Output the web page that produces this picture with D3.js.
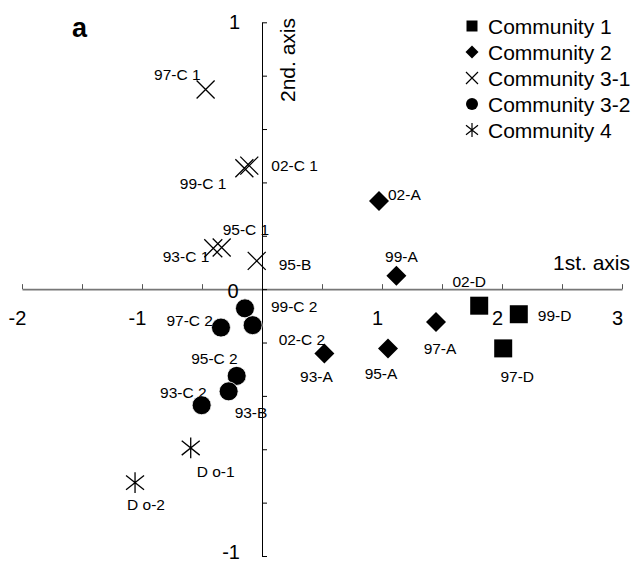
<!DOCTYPE html>
<html>
<head>
<meta charset="utf-8">
<script src="https://cdn.jsdelivr.net/npm/d3@7"></script>
<style>
  html, body { margin: 0; padding: 0; background: #fff; }
  svg { display: block; font-family: "Liberation Sans", Arial, Helvetica, sans-serif; }
</style>
</head>
<body>
<div id="chart"></div>
<script>
// ---------------- data ----------------
const xTickValues = [-2, -1.5, -1, -0.5, 0, 0.5, 1, 1.5, 2, 2.5, 3];
const xTickLabels = ["-2", "", "-1", "", "", "", "1", "", "2", "", "3"];
const yTickValues = [-1, -0.8, -0.6, -0.4, -0.2, 0, 0.2, 0.4, 0.6, 0.8, 1];
const yTickLabels = ["-1", "", "", "", "", "", "", "", "", "", "1"];
const originLabel = "0";

const legendLabels = ["Community 1", "Community 2", "Community 3-1", "Community 3-2", "Community 4"];

// Community 1 (squares)
const c1Labels = ["02-D", "99-D", "97-D"];
const c1X = [1.81, 2.14, 2.01];
const c1Y = [-0.062, -0.094, -0.222];

// Community 2 (diamonds)
const c2Labels = ["02-A", "99-A", "97-A", "95-A", "93-A"];
const c2X = [0.975, 1.12, 1.45, 1.05, 0.52];
const c2Y = [0.33, 0.05, -0.123, -0.222, -0.241];

// Community 3-1 (crosses)
const c31Labels = ["97-C 1", "99-C 1", "02-C 1", "93-C 1", "95-C 1", "95-B"];
const c31X = [-0.47, -0.147, -0.106, -0.406, -0.336, -0.044];
const c31Y = [0.748, 0.453, 0.463, 0.153, 0.156, 0.106];

// Community 3-2 (circles)
const c32Labels = ["99-C 2", "02-C 2", "97-C 2", "95-C 2", "93-B", "93-C 2"];
const c32X = [-0.142, -0.078, -0.342, -0.211, -0.278, -0.503];
const c32Y = [-0.072, -0.135, -0.144, -0.325, -0.383, -0.435];

// Community 4 (asterisks)
const c4Labels = ["D o-1", "D o-2"];
const c4X = [-0.594, -1.058];
const c4Y = [-0.595, -0.725];

// ---------------- layout / style ----------------
const W = 631, H = 564;
const labelOffsets = {
  "02-D": [-10, -24, "middle"], "99-D": [19, 1, "start"], "97-D": [14, 28, "middle"],
  "02-A": [9, -7, "start"], "99-A": [5, -19, "middle"], "97-A": [4, 27, "middle"],
  "95-A": [-7, 25, "middle"], "93-A": [-8, 23, "middle"],
  "97-C 1": [-5, -15, "end"], "99-C 1": [-18, 15, "end"], "02-C 1": [22, 0, "start"],
  "93-C 1": [-4, 8, "end"], "95-C 1": [1, -18, "start"], "95-B": [22, 4, "start"],
  "99-C 2": [26, -2, "start"], "02-C 2": [26, 14, "start"], "97-C 2": [-8, -7, "end"],
  "95-C 2": [1, -17, "end"], "93-B": [6, 21, "start"], "93-C 2": [5, -13, "end"],
  "D o-1": [6, 24, "start"], "D o-2": [-8, 22, "start"]
};

const symSquare = { draw(ctx, r) { ctx.rect(-r, -r, 2 * r, 2 * r); } };
const symDiamond = { draw(ctx, r) { ctx.moveTo(0, -r); ctx.lineTo(r, 0); ctx.lineTo(0, r); ctx.lineTo(-r, 0); ctx.closePath(); } };
const symX = { draw(ctx, r) { ctx.moveTo(-r, -r); ctx.lineTo(r, r); ctx.moveTo(-r, r); ctx.lineTo(r, -r); } };
const symCircle = { draw(ctx, r) { ctx.moveTo(r, 0); ctx.arc(0, 0, r, 0, 2 * Math.PI); } };
const symAst = { draw(ctx, r) {
  ctx.moveTo(0, -r * 1.15); ctx.lineTo(0, r * 1.15);
  ctx.moveTo(-r, -r * 0.8); ctx.lineTo(r, r * 0.8);
  ctx.moveTo(-r, r * 0.8); ctx.lineTo(r, -r * 0.8);
} };

const series = [
  { labels: c1Labels, xs: c1X, ys: c1Y, type: symSquare, r: 9, filled: true, lr: 5.5 },
  { labels: c2Labels, xs: c2X, ys: c2Y, type: symDiamond, r: 10, filled: true, lr: 6.5 },
  { labels: c31Labels, xs: c31X, ys: c31Y, type: symX, r: 9, filled: false, lr: 6 },
  { labels: c32Labels, xs: c32X, ys: c32Y, type: symCircle, r: 9.5, filled: true, lr: 6 },
  { labels: c4Labels, xs: c4X, ys: c4Y, type: symAst, r: 9, filled: false, lr: 6 }
];

// ---------------- chart ----------------
const svg = d3.select("#chart").append("svg").attr("width", W).attr("height", H);

const x = d3.scaleLinear().domain([-2, 3]).range([22, 622]);
const y = d3.scaleLinear().domain([-1, 1]).range([556, 22.3]);

// x axis (ticks pointing up, labels below)
const xAxis = d3.axisBottom(x)
  .tickValues(xTickValues)
  .tickFormat((d, i) => xTickLabels[i])
  .tickSizeInner(-5).tickSizeOuter(0).tickPadding(22);
const gx = svg.append("g").attr("transform", `translate(0,${y(0)})`).call(xAxis);
gx.select(".domain").attr("stroke", "#777").attr("stroke-width", 1.6);
gx.selectAll(".tick line").attr("stroke", "#555").attr("stroke-width", 1);
gx.selectAll(".tick text").attr("font-size", 20).attr("dx", -5).attr("fill", "#000")
  .attr("font-family", "Liberation Sans, Arial, sans-serif");

// y axis (ticks pointing right, labels left)
const yAxis = d3.axisLeft(y)
  .tickValues(yTickValues)
  .tickFormat((d, i) => yTickLabels[i])
  .tickSizeInner(-5).tickSizeOuter(0).tickPadding(22);
const gy = svg.append("g").attr("transform", `translate(${x(0)},0)`).call(yAxis);
gy.select(".domain").attr("stroke", "#000").attr("stroke-width", 1);
gy.selectAll(".tick line").attr("stroke", "#000").attr("stroke-width", 1);
gy.selectAll(".tick text").attr("font-size", 20).attr("fill", "#000")
  .attr("font-family", "Liberation Sans, Arial, sans-serif")
  .attr("dy", d => d === -1 ? "0.12em" : "0.32em");

// shared origin label
svg.append("text").attr("x", x(0) - 29).attr("y", y(0) + 2)
  .attr("text-anchor", "middle").attr("dominant-baseline", "central")
  .attr("font-size", 20).text(originLabel);

// axis titles
svg.append("text").attr("x", 630).attr("y", y(0) - 27)
  .attr("text-anchor", "end").attr("dominant-baseline", "central")
  .attr("font-size", 21).text("1st. axis");
svg.append("text").attr("transform", `translate(${x(0) + 25},60) rotate(-90)`)
  .attr("text-anchor", "middle").attr("dominant-baseline", "central")
  .attr("font-size", 21).text("2nd. axis");

// panel letter
svg.append("text").attr("x", 72).attr("y", 37)
  .attr("font-size", 27).attr("font-weight", "bold").text("a");

// points
series.forEach(s => {
  const pts = s.labels.map((l, i) => ({ label: l, x: s.xs[i], y: s.ys[i] }));
  const g = svg.append("g");
  g.selectAll("path").data(pts).join("path")
    .attr("transform", d => `translate(${x(d.x)},${y(d.y)})`)
    .attr("d", d3.symbol().type(s.type).size(s.r))
    .attr("fill", s.filled ? "#000" : "none")
    .attr("stroke", s.type === symCircle ? "#fff" : (s.filled ? "none" : "#000"))
    .attr("stroke-width", s.type === symCircle ? 0.8 : 1.3);
  g.selectAll("text").data(pts).join("text")
    .attr("x", d => x(d.x) + labelOffsets[d.label][0])
    .attr("y", d => y(d.y) + labelOffsets[d.label][1])
    .attr("text-anchor", d => labelOffsets[d.label][2])
    .attr("dominant-baseline", "central")
    .attr("font-size", 15.5)
    .text(d => d.label);
});

// legend
const legend = svg.append("g").attr("transform", "translate(472,26)");
legendLabels.forEach((l, i) => {
  const s = series[i];
  const row = legend.append("g").attr("transform", `translate(0,${i * 26})`);
  row.append("path")
    .attr("d", d3.symbol().type(s.type).size(s.lr))
    .attr("fill", s.filled ? "#000" : "none")
    .attr("stroke", s.filled ? "none" : "#000")
    .attr("stroke-width", 1.2);
  row.append("text").attr("x", 16).attr("y", 0)
    .attr("dominant-baseline", "central").attr("font-size", 21).text(l);
});
</script>
</body>
</html>
